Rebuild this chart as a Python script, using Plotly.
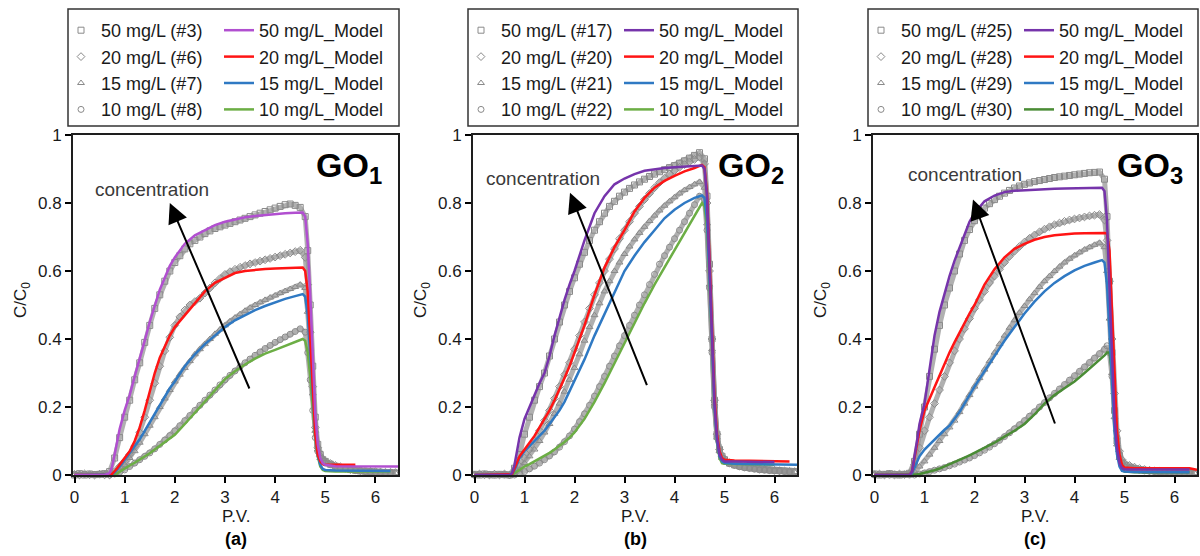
import plotly.graph_objects as go

# ---------------------------------------------------------------- data
# Pore volumes at which the breakthrough data are listed
PV_EXP = [0.0, 0.1, 0.2, 0.3, 0.4, 0.5, 0.6,
          0.7, 0.8, 0.9, 1.0, 1.1, 1.2, 1.3, 1.4, 1.5, 1.6,
          1.7, 1.8, 1.9, 2.0, 2.1, 2.2, 2.3, 2.4, 2.5, 2.6,
          2.7, 2.8, 2.9, 3.0, 3.1, 3.2, 3.3, 3.4, 3.5, 3.6,
          3.7, 3.8, 3.9, 4.0, 4.1, 4.2, 4.3, 4.4, 4.5, 4.6,
          4.65, 4.7, 4.75, 4.8, 4.85, 4.9, 4.95, 5.0,
          5.1, 5.2, 5.3, 5.4, 5.5, 5.6, 5.7, 5.8, 5.9, 6.0, 6.1, 6.2, 6.3, 6.4]

# Pore volumes at which the fitted model curves are listed
PV_MODEL = [0.0, 0.5, 0.6, 0.7, 0.75, 0.8, 0.85, 0.9,
            1.0, 1.1, 1.2, 1.3, 1.4, 1.5, 1.6, 1.7, 1.8, 1.9,
            2.0, 2.2, 2.4, 2.6, 2.8, 3.0, 3.2, 3.4, 3.6, 3.8,
            4.0, 4.2, 4.4, 4.55, 4.6, 4.65, 4.7, 4.75, 4.8, 4.85,
            4.9, 4.95, 5.0, 5.2, 5.6, 6.0, 6.3, 6.45]

# ---- GO1 measured C/C0
GO1_EXP_50 = [0.000, 0.004, 0.000, 0.003, 0.001, 0.002, 0.004,
              0.010, 0.050, 0.110, 0.170, 0.220, 0.280, 0.330, 0.390, 0.440, 0.490,
              0.530, 0.570, 0.600, 0.625, 0.645, 0.665, 0.680, 0.690, 0.700, 0.710,
              0.718, 0.725, 0.730, 0.735, 0.740, 0.745, 0.750, 0.755, 0.760, 0.765,
              0.770, 0.775, 0.780, 0.785, 0.790, 0.795, 0.797, 0.793, 0.787, 0.760,
              0.660, 0.500, 0.320, 0.170, 0.090, 0.060, 0.045, 0.040,
              0.032, 0.026, 0.022, 0.019, 0.016, 0.014, 0.012, 0.011, 0.010, 0.009, 0.008, 0.007, 0.007, 0.006]
GO1_EXP_20 = [0.002, 0.000, 0.003, 0.001, 0.000, 0.002, 0.001,
              0.000, 0.010, 0.025, 0.040, 0.060, 0.085, 0.125, 0.170, 0.220, 0.270,
              0.320, 0.365, 0.405, 0.440, 0.465, 0.485, 0.500, 0.510, 0.520, 0.535,
              0.550, 0.565, 0.578, 0.590, 0.598, 0.605, 0.611, 0.616, 0.621, 0.625,
              0.629, 0.633, 0.637, 0.641, 0.645, 0.649, 0.653, 0.657, 0.661, 0.640,
              0.560, 0.420, 0.260, 0.140, 0.080, 0.055, 0.045, 0.040,
              0.034, 0.028, 0.024, 0.020, 0.017, 0.015, 0.013, 0.012, 0.011, 0.010, 0.009, 0.008, 0.008, 0.007]
GO1_EXP_15 = [0.000, 0.002, 0.001, 0.000, 0.003, 0.001, 0.002,
              0.000, 0.005, 0.015, 0.030, 0.050, 0.070, 0.095, 0.120, 0.145, 0.170,
              0.200, 0.225, 0.250, 0.275, 0.295, 0.315, 0.335, 0.355, 0.370, 0.385,
              0.400, 0.415, 0.428, 0.440, 0.452, 0.463, 0.473, 0.483, 0.492, 0.500,
              0.508, 0.515, 0.522, 0.528, 0.535, 0.541, 0.547, 0.553, 0.560, 0.550,
              0.480, 0.370, 0.240, 0.130, 0.075, 0.050, 0.040, 0.035,
              0.030, 0.025, 0.021, 0.018, 0.016, 0.014, 0.012, 0.011, 0.010, 0.009, 0.008, 0.008, 0.007, 0.006]
GO1_EXP_10 = [0.001, 0.000, 0.002, 0.000, 0.001, 0.003, 0.000,
              0.000, 0.003, 0.008, 0.015, 0.025, 0.035, 0.045, 0.055, 0.065, 0.077,
              0.090, 0.103, 0.116, 0.130, 0.145, 0.160, 0.175, 0.190, 0.205, 0.220,
              0.235, 0.250, 0.265, 0.280, 0.293, 0.306, 0.318, 0.330, 0.341, 0.352,
              0.362, 0.372, 0.381, 0.390, 0.398, 0.406, 0.414, 0.422, 0.430, 0.420,
              0.360, 0.280, 0.190, 0.110, 0.070, 0.050, 0.040, 0.035,
              0.030, 0.025, 0.021, 0.018, 0.015, 0.013, 0.012, 0.010, 0.009, 0.008, 0.008, 0.007, 0.006, 0.006]

# ---- GO1 model C/C0
GO1_MOD_50 = [0, 0, 0, 0.005, 0.025, 0.06, 0.10, 0.135,
              0.19, 0.235, 0.29, 0.34, 0.395, 0.45, 0.50, 0.545, 0.58, 0.615,
              0.64, 0.68, 0.705, 0.72, 0.735, 0.745, 0.752, 0.758, 0.762, 0.765,
              0.768, 0.77, 0.771, 0.772, 0.76, 0.68, 0.53, 0.34, 0.18, 0.09,
              0.05, 0.035, 0.03, 0.026, 0.025, 0.025, 0.025, 0.025]
GO1_MOD_20 = [0, 0, 0, 0, 0.003, 0.01, 0.02, 0.03,
              0.05, 0.07, 0.10, 0.14, 0.19, 0.245, 0.30, 0.345, 0.38, 0.41,
              0.435, 0.47, 0.505, 0.54, 0.565, 0.58, 0.594, 0.60, 0.604, 0.606,
              0.607, 0.608, 0.609, 0.61, 0.60, 0.54, 0.40, 0.24, 0.12, 0.06,
              0.04, 0.032, 0.03, 0.03, 0.03, None, None, None]
GO1_MOD_15 = [0, 0, 0, 0, 0.002, 0.008, 0.015, 0.025,
              0.045, 0.065, 0.085, 0.105, 0.13, 0.155, 0.18, 0.205, 0.23, 0.255,
              0.275, 0.32, 0.355, 0.385, 0.41, 0.435, 0.455, 0.47, 0.485, 0.497,
              0.508, 0.518, 0.526, 0.532, 0.525, 0.47, 0.36, 0.23, 0.12, 0.06,
              0.03, 0.018, 0.015, 0.013, 0.012, 0.012, 0.012, None]
GO1_MOD_10 = [0, 0, 0, 0, 0, 0.002, 0.005, 0.01,
              0.02, 0.028, 0.036, 0.045, 0.054, 0.064, 0.075, 0.086, 0.097, 0.108,
              0.118, 0.15, 0.183, 0.216, 0.25, 0.282, 0.305, 0.325, 0.342, 0.357,
              0.368, 0.38, 0.392, 0.40, 0.395, 0.36, 0.29, 0.20, 0.11, 0.055,
              0.025, 0.015, 0.012, 0.01, 0.01, 0.01, 0.01, None]

# ---- GO2 measured C/C0
GO2_EXP_50 = [0.002, 0.000, 0.003, 0.001, 0.000, 0.002, 0.001,
              0.000, 0.020, 0.060, 0.120, 0.170, 0.220, 0.260, 0.300, 0.350, 0.400,
              0.450, 0.500, 0.540, 0.580, 0.620, 0.655, 0.690, 0.720, 0.745, 0.770,
              0.790, 0.805, 0.820, 0.832, 0.843, 0.853, 0.862, 0.870, 0.878, 0.885,
              0.892, 0.898, 0.904, 0.910, 0.917, 0.924, 0.932, 0.940, 0.948, 0.930,
              0.820, 0.620, 0.400, 0.220, 0.120, 0.075, 0.055, 0.045,
              0.035, 0.030, 0.027, 0.024, 0.022, 0.020, 0.018, 0.016, 0.015, 0.014, 0.013, 0.012, 0.011, 0.010]
GO2_EXP_20 = [0.000, 0.003, 0.001, 0.000, 0.002, 0.000, 0.003,
              0.000, 0.005, 0.025, 0.050, 0.075, 0.100, 0.130, 0.160, 0.190, 0.225,
              0.260, 0.295, 0.330, 0.370, 0.410, 0.450, 0.490, 0.530, 0.565, 0.600,
              0.635, 0.665, 0.695, 0.720, 0.745, 0.770, 0.790, 0.810, 0.828, 0.845,
              0.860, 0.873, 0.885, 0.895, 0.905, 0.913, 0.921, 0.928, 0.935, 0.915,
              0.800, 0.600, 0.400, 0.220, 0.120, 0.075, 0.055, 0.045,
              0.036, 0.031, 0.027, 0.024, 0.022, 0.020, 0.018, 0.017, 0.015, 0.014, 0.013, 0.012, 0.011, 0.010]
GO2_EXP_15 = [0.001, 0.000, 0.002, 0.003, 0.000, 0.001, 0.002,
              0.000, 0.003, 0.015, 0.035, 0.055, 0.075, 0.100, 0.125, 0.150, 0.180,
              0.210, 0.245, 0.280, 0.315, 0.355, 0.395, 0.435, 0.470, 0.505, 0.540,
              0.570, 0.600, 0.625, 0.650, 0.672, 0.693, 0.712, 0.730, 0.747, 0.763,
              0.778, 0.792, 0.805, 0.817, 0.828, 0.838, 0.847, 0.855, 0.862, 0.845,
              0.740, 0.560, 0.370, 0.210, 0.110, 0.070, 0.050, 0.040,
              0.034, 0.029, 0.025, 0.022, 0.020, 0.018, 0.016, 0.015, 0.014, 0.013, 0.012, 0.011, 0.010, 0.009]
GO2_EXP_10 = [0.000, 0.002, 0.000, 0.001, 0.003, 0.001, 0.000,
              0.000, 0.000, 0.005, 0.010, 0.018, 0.026, 0.035, 0.045, 0.056, 0.068,
              0.082, 0.098, 0.115, 0.135, 0.157, 0.180, 0.205, 0.232, 0.260, 0.290,
              0.320, 0.350, 0.380, 0.410, 0.440, 0.470, 0.500, 0.530, 0.560, 0.590,
              0.620, 0.645, 0.670, 0.695, 0.720, 0.745, 0.770, 0.795, 0.820, 0.810,
              0.720, 0.550, 0.360, 0.200, 0.110, 0.070, 0.050, 0.040,
              0.033, 0.028, 0.024, 0.021, 0.019, 0.017, 0.015, 0.014, 0.013, 0.012, 0.011, 0.010, 0.009, 0.008]

# ---- GO2 model C/C0
GO2_MOD_50 = [0, 0, 0, 0, 0.005, 0.03, 0.07, 0.11,
              0.165, 0.20, 0.24, 0.27, 0.30, 0.35, 0.41, 0.465, 0.515, 0.56,
              0.60, 0.69, 0.77, 0.82, 0.855, 0.872, 0.885, 0.895, 0.90, 0.903,
              0.905, 0.907, 0.908, 0.91, 0.90, 0.82, 0.62, 0.40, 0.21, 0.11,
              0.06, 0.045, 0.04, 0.04, 0.039, 0.038, None, None]
GO2_MOD_20 = [0, 0, 0, 0, 0.002, 0.02, 0.04, 0.055,
              0.075, 0.095, 0.115, 0.14, 0.165, 0.19, 0.22, 0.25, 0.285, 0.32,
              0.36, 0.44, 0.53, 0.61, 0.67, 0.72, 0.775, 0.815, 0.845, 0.865,
              0.88, 0.893, 0.903, 0.912, 0.905, 0.83, 0.64, 0.42, 0.23, 0.12,
              0.07, 0.05, 0.045, 0.043, 0.042, 0.04, 0.04, None]
GO2_MOD_15 = [0, 0, 0, 0, 0.002, 0.015, 0.035, 0.05,
              0.07, 0.085, 0.10, 0.115, 0.13, 0.15, 0.17, 0.19, 0.215, 0.245,
              0.275, 0.34, 0.41, 0.475, 0.54, 0.60, 0.645, 0.685, 0.72, 0.755,
              0.78, 0.80, 0.815, 0.822, 0.815, 0.75, 0.58, 0.38, 0.20, 0.10,
              0.055, 0.04, 0.035, 0.033, 0.032, 0.031, 0.03, 0.03]
GO2_MOD_10 = [0, 0, 0, 0, 0, 0.005, 0.01, 0.015,
              0.025, 0.032, 0.04, 0.048, 0.056, 0.065, 0.075, 0.085, 0.097, 0.11,
              0.125, 0.165, 0.215, 0.27, 0.33, 0.39, 0.45, 0.505, 0.56, 0.61,
              0.66, 0.71, 0.76, 0.80, 0.79, 0.73, 0.57, 0.37, 0.20, 0.10,
              0.05, 0.035, 0.033, 0.032, 0.032, 0.03, None, None]

# ---- GO3 measured C/C0
GO3_EXP_50 = [0.003, 0.000, 0.002, 0.004, 0.001, 0.000, 0.002,
              0.005, 0.040, 0.120, 0.200, 0.290, 0.370, 0.440, 0.500, 0.550, 0.600,
              0.650, 0.690, 0.722, 0.748, 0.768, 0.785, 0.798, 0.810, 0.820, 0.829,
              0.837, 0.844, 0.850, 0.855, 0.859, 0.863, 0.866, 0.869, 0.872, 0.875,
              0.877, 0.879, 0.881, 0.883, 0.885, 0.887, 0.889, 0.890, 0.891, 0.870,
              0.760, 0.570, 0.360, 0.190, 0.100, 0.055, 0.035, 0.028,
              0.022, 0.019, 0.016, 0.014, 0.013, 0.012, 0.011, 0.010, 0.009, 0.009, 0.008, 0.008, 0.007, 0.007]
GO3_EXP_20 = [0.001, 0.003, 0.000, 0.002, 0.000, 0.003, 0.001,
              0.003, 0.030, 0.080, 0.130, 0.170, 0.210, 0.250, 0.290, 0.330, 0.365,
              0.400, 0.430, 0.460, 0.490, 0.515, 0.540, 0.565, 0.585, 0.605, 0.625,
              0.643, 0.658, 0.672, 0.685, 0.696, 0.706, 0.715, 0.723, 0.730, 0.736,
              0.741, 0.746, 0.750, 0.753, 0.756, 0.759, 0.762, 0.764, 0.766, 0.750,
              0.690, 0.570, 0.400, 0.240, 0.130, 0.070, 0.045, 0.035,
              0.028, 0.023, 0.019, 0.016, 0.014, 0.012, 0.011, 0.010, 0.009, 0.009, 0.008, 0.008, 0.007, 0.007]
GO3_EXP_15 = [0.002, 0.000, 0.001, 0.003, 0.000, 0.002, 0.000,
              0.002, 0.010, 0.025, 0.040, 0.060, 0.080, 0.100, 0.120, 0.140, 0.160,
              0.185, 0.210, 0.235, 0.260, 0.285, 0.310, 0.335, 0.360, 0.385, 0.410,
              0.433, 0.455, 0.477, 0.497, 0.517, 0.535, 0.553, 0.570, 0.585, 0.600,
              0.613, 0.625, 0.636, 0.646, 0.655, 0.663, 0.670, 0.677, 0.683, 0.670,
              0.600, 0.460, 0.300, 0.170, 0.090, 0.050, 0.035, 0.028,
              0.022, 0.018, 0.015, 0.013, 0.012, 0.011, 0.010, 0.009, 0.009, 0.008, 0.008, 0.007, 0.007, 0.006]
GO3_EXP_10 = [0.000, 0.002, 0.001, 0.000, 0.003, 0.001, 0.002,
              0.000, 0.000, 0.003, 0.006, 0.010, 0.014, 0.018, 0.022, 0.027, 0.032,
              0.038, 0.044, 0.050, 0.057, 0.065, 0.073, 0.082, 0.092, 0.102, 0.113,
              0.124, 0.136, 0.148, 0.160, 0.173, 0.186, 0.200, 0.213, 0.227, 0.240,
              0.253, 0.266, 0.279, 0.292, 0.305, 0.318, 0.331, 0.344, 0.357, 0.370,
              0.380, 0.360, 0.290, 0.190, 0.110, 0.060, 0.035, 0.025,
              0.020, 0.017, 0.014, 0.012, 0.011, 0.010, 0.009, 0.008, 0.008, 0.007, 0.007, 0.006, 0.006, 0.005]

# ---- GO3 model C/C0
GO3_MOD_50 = [0, 0, 0, 0, 0.01, 0.05, 0.10, 0.15,
              0.21, 0.31, 0.41, 0.48, 0.535, 0.585, 0.63, 0.67, 0.71, 0.745,
              0.77, 0.805, 0.822, 0.832, 0.836, 0.838, 0.84, 0.841, 0.842, 0.843,
              0.843, 0.844, 0.844, 0.845, 0.835, 0.75, 0.55, 0.34, 0.17, 0.08,
              0.035, 0.02, 0.017, 0.016, 0.016, 0.016, 0.016, None]
GO3_MOD_20 = [0, 0, 0, 0, 0.01, 0.05, 0.09, 0.13,
              0.19, 0.225, 0.26, 0.29, 0.325, 0.36, 0.39, 0.42, 0.45, 0.475,
              0.50, 0.56, 0.605, 0.64, 0.665, 0.68, 0.692, 0.70, 0.705, 0.708,
              0.71, 0.711, 0.712, 0.712, 0.712, 0.71, 0.66, 0.48, 0.28, 0.13,
              0.06, 0.03, 0.022, 0.02, 0.02, 0.02, 0.02, 0.015]
GO3_MOD_15 = [0, 0, 0, 0, 0.005, 0.02, 0.04, 0.055,
              0.075, 0.09, 0.105, 0.12, 0.133, 0.145, 0.165, 0.185, 0.21, 0.235,
              0.26, 0.305, 0.35, 0.395, 0.435, 0.475, 0.51, 0.54, 0.565, 0.585,
              0.602, 0.615, 0.625, 0.632, 0.625, 0.56, 0.42, 0.26, 0.13, 0.06,
              0.025, 0.012, 0.01, 0.009, 0.008, 0.008, 0.008, None]
GO3_MOD_10 = [0, 0, 0, 0, 0, 0.001, 0.002, 0.003,
              0.006, 0.01, 0.014, 0.019, 0.025, 0.032, 0.038, 0.045, 0.051, 0.058,
              0.065, 0.08, 0.095, 0.113, 0.13, 0.15, 0.178, 0.21, 0.235, 0.255,
              0.275, 0.30, 0.325, 0.345, 0.352, 0.36, 0.36, 0.30, 0.20, 0.10,
              0.04, 0.015, 0.01, 0.008, 0.008, 0.008, 0.008, None]

CONCENTRATIONS = ["50 mg/L", "20 mg/L", "15 mg/L", "10 mg/L"]
COLUMN_IDS = [["#3", "#6", "#7", "#8"],
              ["#17", "#20", "#21", "#22"],
              ["#25", "#28", "#29", "#30"]]
PANEL_NAMES = ["GO<sub>1</sub>", "GO<sub>2</sub>", "GO<sub>3</sub>"]
PANEL_TAGS = ["(a)", "(b)", "(c)"]
X_TICKS = [0, 1, 2, 3, 4, 5, 6]
Y_TICKS = [0, 0.2, 0.4, 0.6, 0.8, 1]

EXP_SETS = [[GO1_EXP_50, GO1_EXP_20, GO1_EXP_15, GO1_EXP_10],
            [GO2_EXP_50, GO2_EXP_20, GO2_EXP_15, GO2_EXP_10],
            [GO3_EXP_50, GO3_EXP_20, GO3_EXP_15, GO3_EXP_10]]
MOD_SETS = [[GO1_MOD_50, GO1_MOD_20, GO1_MOD_15, GO1_MOD_10],
            [GO2_MOD_50, GO2_MOD_20, GO2_MOD_15, GO2_MOD_10],
            [GO3_MOD_50, GO3_MOD_20, GO3_MOD_15, GO3_MOD_10]]

# ---------------------------------------------------------------- style
W, H = 1200, 556
FONT = "Arial, 'Liberation Sans', Helvetica, sans-serif"
SYMBOLS = ["square-open", "diamond-open", "triangle-up-open", "circle-open"]
MODEL_COLORS = [["#b14fd0", "#ff1414", "#2f79c3", "#6cae45"],
                ["#7634ab", "#ff1414", "#2f79c3", "#6cae45"],
                ["#7634ab", "#ff1414", "#2f79c3", "#4a8c35"]]
DATA_GREY = "#8a8a8a"
BAND_GREY = "rgba(150,150,150,0.75)"

# plot-area pixel boxes (left, right) and shared top/bottom
PLOT_X = [(73, 398), (473, 797), (873, 1197)]
PLOT_TOP, PLOT_BOTTOM = 135, 475
# concentration labels and arrows (in data units) per panel
CONC_TEXT_XY = [(1.55, 0.84), (1.36, 0.873), (1.80, 0.884)]
ARROW_TAIL = [(3.50, 0.25), (3.46, 0.26), (3.62, 0.147)]
ARROW_HEAD = [(1.90, 0.80), (1.91, 0.83), (1.97, 0.81)]
NAME_RIGHT_X = [6.18, 6.22, 6.20]


def px_x(px):
    return px / W


def px_y(py):
    return 1 - py / H


def paper_text(text, x, y, size, angle=0, color="#1a1a1a"):
    return dict(text=text, xref="paper", yref="paper", x=px_x(x), y=px_y(y),
                xanchor="center", yanchor="middle", textangle=angle,
                showarrow=False, font=dict(size=size, color=color))


fig = go.Figure()
annotations = []
shapes = []
layout_axes = {}

for p in range(3):
    sfx = "" if p == 0 else str(p + 1)
    xa, ya = "x" + sfx, "y" + sfx
    leg_exp = "legend" if p == 0 else "legend" + str(2 * p + 1)
    leg_mod = "legend" + str(2 * p + 2)

    # measured data: grey band plus open markers
    for k in range(4):
        ys = EXP_SETS[p][k]
        fig.add_trace(go.Scatter(
            x=PV_EXP, y=ys, xaxis=xa, yaxis=ya, mode="lines",
            line=dict(color=BAND_GREY, width=5), showlegend=False,
            hoverinfo="skip"))
        fig.add_trace(go.Scatter(
            x=PV_EXP, y=ys, xaxis=xa, yaxis=ya, mode="markers",
            name=f"{CONCENTRATIONS[k]} ({COLUMN_IDS[p][k]})",
            marker=dict(symbol=SYMBOLS[k], size=6, color=DATA_GREY,
                        line=dict(width=1, color=DATA_GREY)),
            cliponaxis=False, legend=leg_exp,
            legendgroup=f"exp{p}{k}"))
    # model curves, lowest concentration drawn first
    for k in [3, 2, 1, 0]:
        fig.add_trace(go.Scatter(
            x=PV_MODEL, y=MOD_SETS[p][k], xaxis=xa, yaxis=ya, mode="lines",
            name=f"{CONCENTRATIONS[k]}_Model",
            line=dict(color=MODEL_COLORS[p][k], width=2.5),
            legend=leg_mod, legendrank=k + 1, legendgroup=f"mod{p}{k}"))

    x0, x1 = PLOT_X[p]
    axis_common = dict(showline=True, linecolor="#1e1e1e", linewidth=2,
                       mirror=True, ticks="outside", ticklen=6, tickwidth=1.5,
                       tickcolor="#000", showgrid=False, zeroline=False,
                       automargin=False,
                       tickfont=dict(size=17, color="#1a1a1a", family=FONT))
    layout_axes["xaxis" + sfx] = dict(
        axis_common, domain=[px_x(x0), px_x(x1)], range=[-0.03, 6.45],
        tickvals=X_TICKS, anchor=ya)
    layout_axes["yaxis" + sfx] = dict(
        axis_common, domain=[px_y(PLOT_BOTTOM), px_y(PLOT_TOP)],
        range=[0, 1], tickvals=Y_TICKS, anchor=xa)

    cx = (x0 + x1) / 2
    # axis titles and panel tag
    annotations.append(paper_text("C/C<sub>0</sub>", x0 - 51, 300, 17, angle=-90))
    annotations.append(paper_text("P.V.", cx, 516, 17))
    annotations.append(paper_text("<b>" + PANEL_TAGS[p] + "</b>", cx, 539, 18,
                                  color="#000"))
    # material name
    annotations.append(dict(text="<b>" + PANEL_NAMES[p] + "</b>", xref=xa,
                            yref=ya, x=NAME_RIGHT_X[p], y=0.905,
                            xanchor="right", yanchor="middle", showarrow=False,
                            font=dict(size=34, color="#000")))
    # concentration trend arrow
    tx, ty = CONC_TEXT_XY[p]
    annotations.append(dict(text="concentration", xref=xa, yref=ya, x=tx, y=ty,
                            xanchor="center", yanchor="middle",
                            showarrow=False,
                            font=dict(size=19, color="#3a3a3a")))
    (hx, hy), (ax_, ay_) = ARROW_HEAD[p], ARROW_TAIL[p]
    annotations.append(dict(text="", xref=xa, yref=ya, x=hx, y=hy,
                            axref=xa, ayref=ya, ax=ax_, ay=ay_,
                            showarrow=True, arrowhead=2, arrowsize=2,
                            arrowwidth=2, arrowcolor="#000"))
    # legend frame
    shapes.append(dict(type="rect", xref="paper", yref="paper",
                       x0=px_x(x0 - 5), x1=px_x(x1 + 1),
                       y0=px_y(126), y1=px_y(9),
                       line=dict(color="#333", width=1.5)))

legend_style = dict(bgcolor="rgba(0,0,0,0)", borderwidth=0,
                    xanchor="left", yanchor="top", y=px_y(12),
                    font=dict(size=18, color="#1a1a1a", family=FONT),
                    tracegroupgap=0)
legends = {}
for p in range(3):
    x0 = PLOT_X[p][0]
    exp_key = "legend" if p == 0 else "legend" + str(2 * p + 1)
    mod_key = "legend" + str(2 * p + 2)
    legends[exp_key] = dict(legend_style, x=px_x(x0 - 12))
    legends[mod_key] = dict(legend_style, x=px_x(x0 + 146))

fig.update_layout(
    width=W, height=H,
    margin=dict(l=0, r=0, t=0, b=0, pad=0, autoexpand=False),
    paper_bgcolor="white", plot_bgcolor="white",
    font=dict(family=FONT, color="#1a1a1a"),
    annotations=annotations, shapes=shapes,
    **layout_axes, **legends)

fig.write_html("out.html")
